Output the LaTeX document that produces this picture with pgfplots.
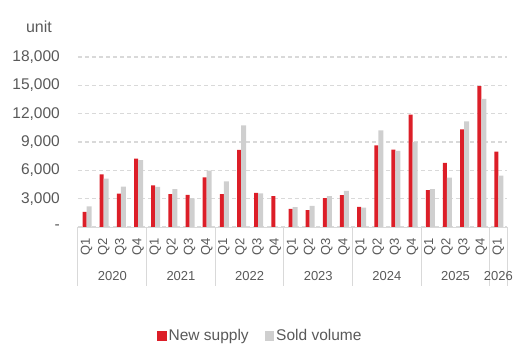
\documentclass[border=0pt]{standalone}
\usepackage{pgfplots}
\pgfplotsset{compat=1.18}
\usepackage{fontspec}
\setmainfont{Liberation Sans}
\definecolor{supred}{HTML}{DC1E28}
\definecolor{soldgrey}{HTML}{CFCFCF}
\definecolor{txtgrey}{HTML}{595959}
\definecolor{gridgrey}{HTML}{D9D9D9}
\begin{document}
\begin{tikzpicture}
\useasboundingbox (-78pt,-118pt) rectangle (446pt,227pt);
\begin{axis}[
  at={(0pt,0pt)}, anchor=south west,
  scale only axis, width=429pt, height=170pt,
  xmin=-0.5, xmax=24.5, ymin=0, ymax=18000,
  axis line style={draw=none},
  scaled y ticks=false,
  /pgf/number format/assume math mode=true,
  ytick={0,3000,6000,9000,12000,15000,18000},
  yticklabels={-\hspace{9pt},{3,000},{6,000},{9,000},{12,000},{15,000},{18,000}},
  yticklabel style={font=\fontsize{15.5}{16}\selectfont, text=txtgrey, anchor=east, inner sep=0pt, xshift=-18pt},
  xtick={0,...,24},
  xticklabels={Q1,Q2,Q3,Q4,Q1,Q2,Q3,Q4,Q1,Q2,Q3,Q4,Q1,Q2,Q3,Q4,Q1,Q2,Q3,Q4,Q1,Q2,Q3,Q4,Q1},
  xticklabel shift=11pt,
  xticklabel style={font=\fontsize{13}{13}\selectfont, text=txtgrey, rotate=90, anchor=east, inner sep=0pt},
  major tick length=0pt,
  ymajorgrids, grid style={gridgrey, line width=1.1pt, dash pattern=on 4pt off 3pt},
  clip=false,
  legend columns=2,
  legend style={at={(0.425,-0.641)}, anchor=center, draw=none, fill=none,
    font=\fontsize{15.5}{16}\selectfont, text=txtgrey,
    /tikz/every even column/.append style={column sep=14pt}},
  legend cell align=left,
]
\addplot[ybar, bar width=4pt, bar shift=-2pt, fill=supred, draw=none,
  legend image code/.code={\fill[supred] (0pt,-4.75pt) rectangle (9.5pt,4.75pt);}]
coordinates {
(0,1590) (1,5580) (2,3530) (3,7235)
(4,4410) (5,3480) (6,3410) (7,5250)
(8,3480) (9,8170) (10,3620) (11,3270)
(12,1920) (13,1780) (14,3050) (15,3370)
(16,2130) (17,8630) (18,8200) (19,11890)
(20,3900) (21,6780) (22,10330) (23,14910)
(24,7990)};
\addlegendentry{New supply}
\addplot[ybar, bar width=5pt, bar shift=2.5pt, fill=soldgrey, draw=none,
  legend image code/.code={\fill[soldgrey] (0pt,-4.75pt) rectangle (9.5pt,4.75pt);}]
coordinates {
(0,2190) (1,5120) (2,4270) (3,7090)
(4,4240) (5,4010) (6,3020) (7,5960)
(8,4830) (9,10760) (10,3550) (11,0)
(12,2100) (13,2240) (14,3270) (15,3830)
(16,2060) (17,10230) (18,8060) (19,8980)
(20,4010) (21,5220) (22,11180) (23,13560)
(24,5430)};
\addlegendentry{Sold volume}
% axis line and category separators
\draw[gridgrey, line width=1pt] (axis cs:-0.5,0) -- (axis cs:24.5,0);
\pgfplotsinvokeforeach{-0.5,3.5,7.5,11.5,15.5,19.5,23.5,24.5}{
  \draw[gridgrey, line width=1pt] (axis cs:#1,0) -- ([yshift=-59pt]axis cs:#1,0);
}
\node[font=\fontsize{13}{13}\selectfont, text=txtgrey, inner sep=0pt] at ([yshift=-49pt]axis cs:1.5,0) {2020};
\node[font=\fontsize{13}{13}\selectfont, text=txtgrey, inner sep=0pt] at ([yshift=-49pt]axis cs:5.5,0) {2021};
\node[font=\fontsize{13}{13}\selectfont, text=txtgrey, inner sep=0pt] at ([yshift=-49pt]axis cs:9.5,0) {2022};
\node[font=\fontsize{13}{13}\selectfont, text=txtgrey, inner sep=0pt] at ([yshift=-49pt]axis cs:13.5,0) {2023};
\node[font=\fontsize{13}{13}\selectfont, text=txtgrey, inner sep=0pt] at ([yshift=-49pt]axis cs:17.5,0) {2024};
\node[font=\fontsize{13}{13}\selectfont, text=txtgrey, inner sep=0pt] at ([yshift=-49pt]axis cs:21.5,0) {2025};
\node[font=\fontsize{13}{13}\selectfont, text=txtgrey, inner sep=0pt] at ([yshift=-49pt]axis cs:24,0) {2026};
\node[font=\fontsize{16}{16}\selectfont, text=txtgrey, inner sep=0pt] at (-39pt,200pt) {unit};
\end{axis}
\end{tikzpicture}
\end{document}
